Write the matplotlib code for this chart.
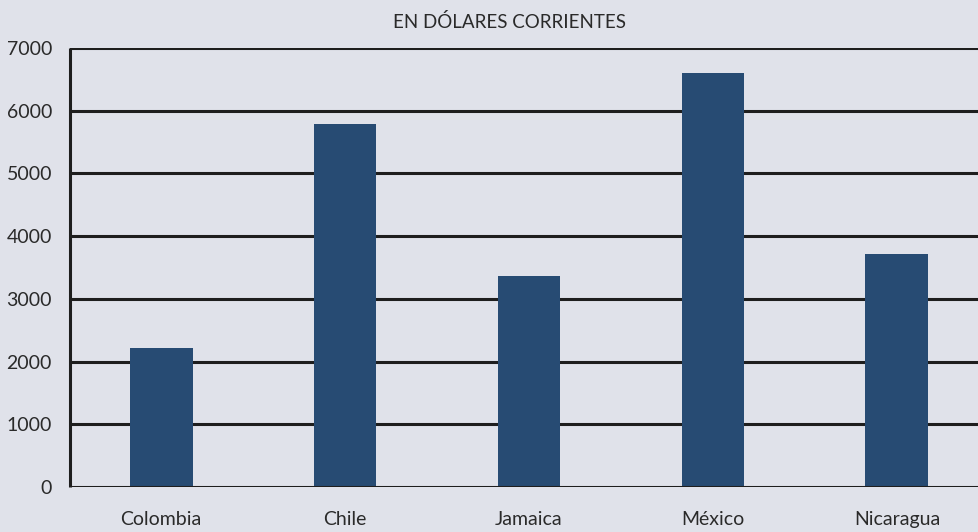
import matplotlib.pyplot as plt

paises = ["Colombia", "Chile", "Jamaica", "México", "Nicaragua"]
valores = [2210, 5790, 3360, 6600, 3720]
yticks = [0, 1000, 2000, 3000, 4000, 5000, 6000, 7000]

bg = "#e0e2ea"
azul = "#274b73"

plt.rcParams['font.family'] = ['Lato', 'DejaVu Sans']

fig = plt.figure(figsize=(9.79, 5.32), dpi=100, facecolor=bg)
ax = fig.add_axes([70 / 979, 1 - 487 / 532, 909 / 979, 439 / 532])
ax.set_facecolor(bg)

x = list(range(len(paises)))
for y in yticks[1:]:
    ax.axhline(y, color="#1e1e1e", lw=2.2, zorder=1)
ax.bar(x, valores, width=0.342, color=azul, zorder=2)
ax.axhline(0, color="#1e1e1e", lw=2.2, zorder=3)

ax.set_xlim(-0.495, 4.446)
ax.set_ylim(0, 7000)
ax.set_yticks(yticks)
ax.set_xticks(x)
ax.set_xticklabels(paises)
ax.tick_params(length=0, labelsize=14, colors="#2a2a2a")
ax.tick_params(axis="x", pad=17)
ax.tick_params(axis="y", pad=13)

for s in ["top", "right", "bottom"]:
    ax.spines[s].set_visible(False)
ax.spines["left"].set_linewidth(2.2)
ax.spines["left"].set_color("#1e1e1e")
ax.spines["left"].set_capstyle("butt")

fig.text(0.52, 1 - 22 / 532, "EN DÓLARES CORRIENTES", ha="center", va="center",
         fontsize=13.5, color="#2a2a2a")

fig.savefig("out.png", dpi=100, facecolor=bg)
